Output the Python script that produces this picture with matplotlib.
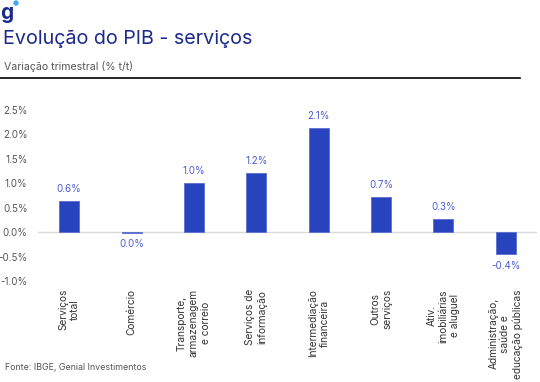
import matplotlib
matplotlib.use("Agg")
import matplotlib.pyplot as plt
from matplotlib.lines import Line2D
from matplotlib.patches import Ellipse

categories = ["Serviços\ntotal", "Comércio", "Transporte,\narmazenagem\ne correio",
              "Serviços de\ninformação", "Intermediação\nfinanceira", "Outros\nserviços",
              "Ativ.\nimobiliárias\ne aluguel", "Administração,\nsaúde e\neducação públicas"]
values = [0.63, -0.01, 1.0, 1.21, 2.13, 0.71, 0.27, -0.45]
value_labels = ["0.6%", "0.0%", "1.0%", "1.2%", "2.1%", "0.7%", "0.3%", "-0.4%"]
yticks = [-1.0, -0.5, 0.0, 0.5, 1.0, 1.5, 2.0, 2.5]

plt.rcParams['font.family'] = ['Inter', 'DejaVu Sans']

W, H = 540, 382
fig = plt.figure(figsize=(W/100, H/100), dpi=100)
fig.patch.set_facecolor('white')

def fx(px): return px / W
def fy(py): return 1 - py / H

ylo, yhi = -1.05, 2.6
ax = fig.add_axes([fx(38), fy(283.5), fx(537) - fx(38), fy(104.6) - fy(283.5)])
x = list(range(len(categories)))
ax.bar(x, values, width=0.32, color='#2743bd', edgecolor='#5a6fd0', linewidth=0.6, zorder=3)
ax.axhline(0, color='#d9d9d9', linewidth=1.0, zorder=2)
ax.set_xlim(-0.5, len(categories) - 0.5)
ax.set_ylim(ylo, yhi)
ax.set_yticks(yticks)
ax.set_yticklabels([f"{t:.1f}%" for t in yticks], fontsize=7, color='#555555')
ax.tick_params(axis='y', length=0, pad=7.5)
ax.set_xticks(x)
ax.set_xticklabels(categories, rotation=90, fontsize=7.3, color='#333333',
                   va='top', ha='center', multialignment='center', linespacing=1.25)
ax.tick_params(axis='x', length=0, pad=4)
for s in ax.spines.values():
    s.set_visible(False)

for xi, v, lab in zip(x, values, value_labels):
    if v >= 0:
        ax.annotate(lab, (xi, v), xytext=(0, 5), textcoords='offset points',
                    ha='center', va='bottom', fontsize=7, color='#4a5ad0')
    else:
        ax.annotate(lab, (xi, v), xytext=(0, -5), textcoords='offset points',
                    ha='center', va='top', fontsize=7, color='#4a5ad0')

# header
fig.text(fx(3), fy(44), "Evolução do PIB - serviços", fontsize=14.2, color='#1c2a8a',
         ha='left', va='baseline')
fig.text(fx(4), fy(67), "Variação trimestral (% t/t)", fontsize=7.6, color='#555555',
         ha='left', va='center')
fig.add_artist(Line2D([0, fx(520)], [fy(78), fy(78)], color='black', linewidth=1.2,
                      transform=fig.transFigure))
fig.text(fx(0), fy(19), "g", fontsize=15, fontweight='bold', color='#1c2a8a',
         ha='left', va='baseline')
fig.add_artist(Ellipse((fx(16), fy(3)), 4/W, 4/H, color='#3fa9f5', transform=fig.transFigure))
fig.text(fx(5), fy(368), "Fonte: IBGE, Genial Investimentos", fontsize=6.4, color='#555555',
         ha='left', va='center')

fig.savefig("out.png", dpi=100)
